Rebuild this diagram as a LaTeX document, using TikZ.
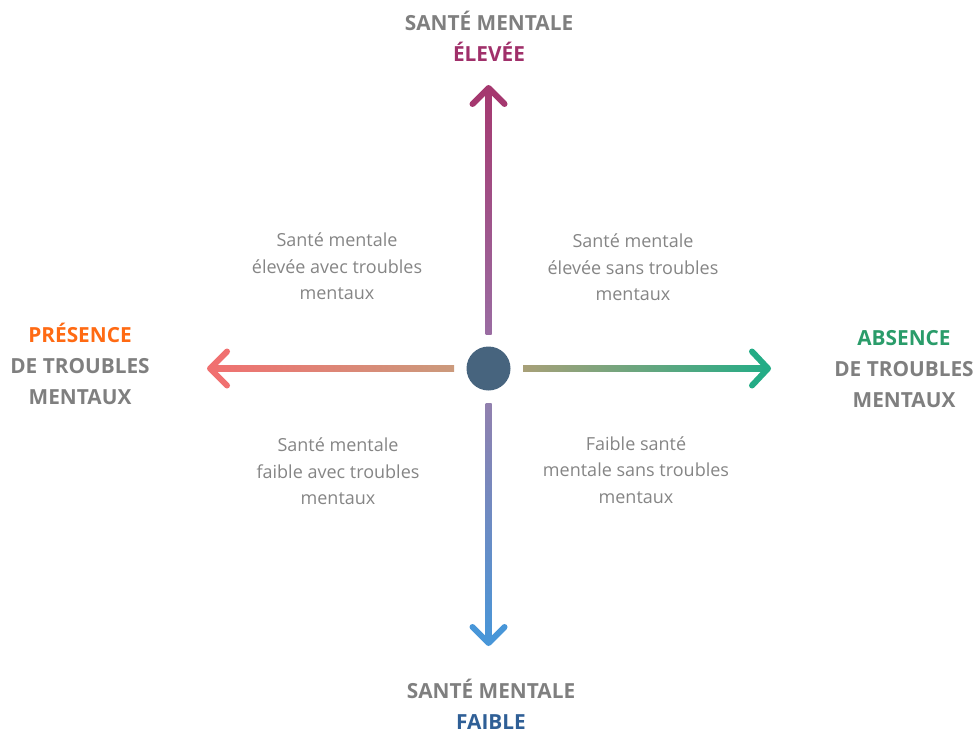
\documentclass[tikz,border=0pt]{standalone}
\usepackage{fontspec}
\setmainfont{Open Sans}
\definecolor{lblgray}{HTML}{7F7F7F}
\definecolor{txtgray}{HTML}{858585}
\definecolor{topc}{HTML}{A5386F}
\definecolor{topm}{HTML}{9A6CA2}
\definecolor{botm}{HTML}{9180AE}
\definecolor{botc}{HTML}{4896D8}
\definecolor{leftc}{HTML}{F07070}
\definecolor{leftm}{HTML}{CB9A7C}
\definecolor{rightm}{HTML}{A8A078}
\definecolor{rightc}{HTML}{24AC86}
\definecolor{dotc}{HTML}{47647E}
\definecolor{elevc}{HTML}{A0306A}
\definecolor{faiblec}{HTML}{2F5F96}
\definecolor{presc}{HTML}{FF6A13}
\definecolor{absc}{HTML}{2A9C6A}
\tikzset{
  axislabel/.style={align=center, text=lblgray, font=\fontsize{20.8}{31}\selectfont\bfseries, inner sep=0pt},
  quadtext/.style={align=center, text=txtgray, font=\fontsize{18}{26.5}\selectfont, inner sep=0pt},
  chevron/.style={line width=6pt, line cap=round, line join=round},
}
\begin{document}
\begin{tikzpicture}[x=1pt,y=-1pt]
\useasboundingbox (0,0) rectangle (976,733);
% center dot
\node[circle, fill=dotc, minimum size=44pt, inner sep=0pt] (c) at (488.5,368.5) {};
% coordinates
\coordinate (ttip) at (488.5,88);
\coordinate (tin) at (488.5,334);
\coordinate (btip) at (488.5,643);
\coordinate (bin) at (488.5,403);
\coordinate (ltip) at (210,368.5);
\coordinate (lin) at (454,368.5);
\coordinate (rtip) at (768,368.5);
\coordinate (rin) at (523,368.5);
% shafts
\shade[top color=topc, bottom color=topm] ([xshift=-3pt]ttip) rectangle ([xshift=3pt]tin);
\shade[top color=botm, bottom color=botc] ([xshift=-3pt]bin) rectangle ([xshift=3pt]btip);
\shade[left color=leftc, right color=leftm] ([yshift=-3pt]ltip) rectangle ([yshift=3pt]lin);
\shade[left color=rightm, right color=rightc] ([yshift=-3pt]rin) rectangle ([yshift=3pt]rtip);
% heads
\draw[chevron, topc] ([shift={(-16,16)}]ttip) -- (ttip) -- ([shift={(16,16)}]ttip);
\draw[chevron, botc] ([shift={(-16,-16)}]btip) -- (btip) -- ([shift={(16,-16)}]btip);
\draw[chevron, leftc] ([shift={(17,-17)}]ltip) -- (ltip) -- ([shift={(17,17)}]ltip);
\draw[chevron, rightc] ([shift={(-16,-17)}]rtip) -- (rtip) -- ([shift={(-16,17)}]rtip);
% axis labels
\node[axislabel] (top) at (489,36) {SANTÉ MENTALE\\\textcolor{elevc}{ÉLEVÉE}};
\node[axislabel] (bot) at (491,704) {SANTÉ MENTALE\\\textcolor{faiblec}{FAIBLE}};
\node[axislabel] (left) at (80,364) {\textcolor{presc}{PRÉSENCE}\\DE TROUBLES\\MENTAUX};
\node[axislabel] (right) at (904,369) {\textcolor{absc}{ABSENCE}\\DE TROUBLES\\MENTAUX};
% quadrant texts
\node[quadtext] (tl) at (337,266.5) {Santé mentale\\élevée avec troubles\\mentaux};
\node[quadtext] (tr) at (633,267.5) {Santé mentale\\élevée sans troubles\\mentaux};
\node[quadtext] (bl) at (338,471.5) {Santé mentale\\faible avec troubles\\mentaux};
\node[quadtext] (br) at (636,470) {Faible santé\\mentale sans troubles\\mentaux};
\end{tikzpicture}
\end{document}
